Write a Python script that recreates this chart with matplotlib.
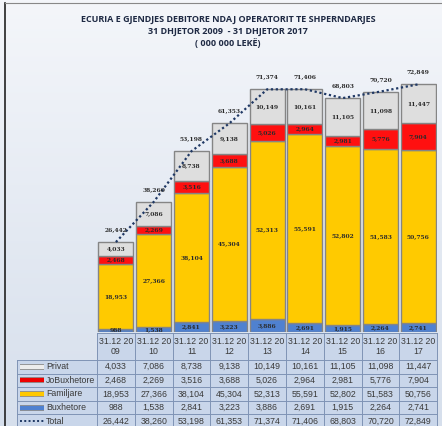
import numpy as np
import matplotlib.pyplot as plt
from matplotlib.patches import Rectangle
from matplotlib.lines import Line2D

years = ['31.12 20\n09', '31.12 20\n10', '31.12 20\n11', '31.12 20\n12', '31.12 20\n13',
         '31.12 20\n14', '31.12 20\n15', '31.12 20\n16', '31.12 20\n17']
buxhetore = [988, 1538, 2841, 3223, 3886, 2691, 1915, 2264, 2741]
familjare = [18953, 27366, 38104, 45304, 52313, 55591, 52802, 51583, 50756]
jobuxhetore = [2468, 2269, 3516, 3688, 5026, 2964, 2981, 5776, 7904]
privat = [4033, 7086, 8738, 9138, 10149, 10161, 11105, 11098, 11447]
total = [26442, 38260, 53198, 61353, 71374, 71406, 68803, 70720, 72849]

W, H = 442, 426
fig = plt.figure(figsize=(W / 100, H / 100), dpi=100)

def px(x):
    return x / W

def py(y):
    return 1 - y / H

# background gradient
bg = fig.add_axes([0, 0, 1, 1])
grad = np.linspace(0, 1, 256).reshape(-1, 1)
bg.imshow(grad, aspect='auto', cmap=plt.matplotlib.colors.LinearSegmentedColormap.from_list(
    'bg', ['#f4f6fa', '#d6dfec']), extent=[0, 1, 0, 1])
bg.set_xlim(0, 1)
bg.set_ylim(0, 1)
bg.axis('off')
fig.add_artist(Line2D([px(5), px(5)], [py(3), 0], transform=fig.transFigure, color='#222222', lw=1.2))
fig.add_artist(Line2D([px(5), 1], [py(3), py(3)], transform=fig.transFigure, color='#888888', lw=0.8))

# title
tfont = dict(family='Open Sans', weight='bold', size=6.5, color='#1f2a44', ha='center', va='center')
fig.text(px(228), py(19), 'ECURIA E GJENDJES DEBITORE NDAJ OPERATORIT TE SHPERNDARJES', **tfont)
fig.text(px(228), py(31), '31 DHJETOR 2009  - 31 DHJETOR 2017', **tfont)
fig.text(px(228), py(43), '( 000 000 LEKË)', **tfont)

x0, colw = 97, 37.8
ax = fig.add_axes([px(x0), 1 - 332 / H, 9 * colw / W, 272 / H])
ax.set_xlim(-0.5, 8.5)
ax.set_ylim(0, 80000)
ax.axis('off')

x = np.arange(len(years))
series = [(buxhetore, '#4f81d0'), (familjare, '#ffca00'), (jobuxhetore, '#ff1010'), (privat, '#dedede')]
bottom = np.zeros(len(years))
for vals, col in series:
    vals = np.array(vals)
    ax.bar(x, vals, bottom=bottom, width=0.93, color=col, edgecolor='#858585', linewidth=1.0)
    for xi, b, v in zip(x, bottom, vals):
        ax.text(xi, b + v / 2, f'{v:,}', ha='center', va='center', fontsize=4.3,
                fontweight='bold', color='#2b2b2b', family='DejaVu Serif')
    bottom += vals

ax.plot(x, total, color='#1f3864', lw=1.6, ls=(0, (1, 1.2)))
for xi, t in zip(x, total):
    ax.annotate(f'{t:,}', (xi, t), xytext=(0, 7), textcoords='offset points', ha='center',
                va='bottom', fontsize=4.3, fontweight='bold', color='#2b2b2b', family='DejaVu Serif')

# data table
cell = '#c9d6ea'
grid = '#7f93b5'
rows = [('Privat', privat), ('JoBuxhetore', jobuxhetore), ('Familjare', familjare),
        ('Buxhetore', buxhetore), ('Total', total)]
keys = ['#ececec', '#ee0000', '#ffc800', '#4f81d0', '#1f3864']
top, hh, rh = 333, 27, 13.6
fig.add_artist(Rectangle((px(x0), py(H + 5)), px(9 * colw), py(top) - py(H + 5),
                         transform=fig.transFigure, facecolor=cell, edgecolor='none'))
fig.add_artist(Rectangle((px(17), py(H + 5)), px(x0 - 17), py(top + hh) - py(H + 5),
                         transform=fig.transFigure, facecolor=cell, edgecolor='none'))
for i in range(10):
    xx = x0 + i * colw
    fig.add_artist(Line2D([px(xx), px(xx)], [py(top), 0], transform=fig.transFigure, color=grid, lw=0.7))
fig.add_artist(Line2D([px(17), px(17)], [py(top + hh), 0], transform=fig.transFigure, color=grid, lw=0.7))
fig.add_artist(Line2D([px(x0), px(x0 + 9 * colw)], [py(top), py(top)], transform=fig.transFigure, color=grid, lw=0.7))
for j in range(6):
    yy = top + hh + j * rh
    fig.add_artist(Line2D([px(17), px(x0 + 9 * colw)], [py(yy), py(yy)], transform=fig.transFigure,
                          color=grid, lw=0.7))
tf = dict(family='Liberation Sans', size=6.3, color='#3a3a3a', ha='center', va='center')
for i, lab in enumerate(years):
    fig.text(px(x0 + (i + 0.5) * colw), py(top + hh / 2), lab, linespacing=1.1, **tf)
for j, (name, vals) in enumerate(rows):
    yc = top + hh + (j + 0.5) * rh
    for i, v in enumerate(vals):
        fig.text(px(x0 + (i + 0.5) * colw), py(yc), f'{v:,}', **tf)
    fig.text(px(46), py(yc), name, family='Liberation Sans', size=6.3, color='#3a3a3a', ha='left', va='center')
    if name == 'Total':
        fig.add_artist(Line2D([px(20), px(44)], [py(yc), py(yc)], transform=fig.transFigure,
                              color=keys[j], lw=1.4, ls=(0, (1, 1.2))))
    else:
        fig.add_artist(Line2D([px(20), px(44)], [py(yc), py(yc)], transform=fig.transFigure,
                              color='#8a8a8a', lw=4.2, solid_capstyle='butt'))
        fig.add_artist(Line2D([px(20), px(44)], [py(yc), py(yc)], transform=fig.transFigure,
                              color=keys[j], lw=3.0, solid_capstyle='butt'))

fig.savefig('out.png', dpi=100)
